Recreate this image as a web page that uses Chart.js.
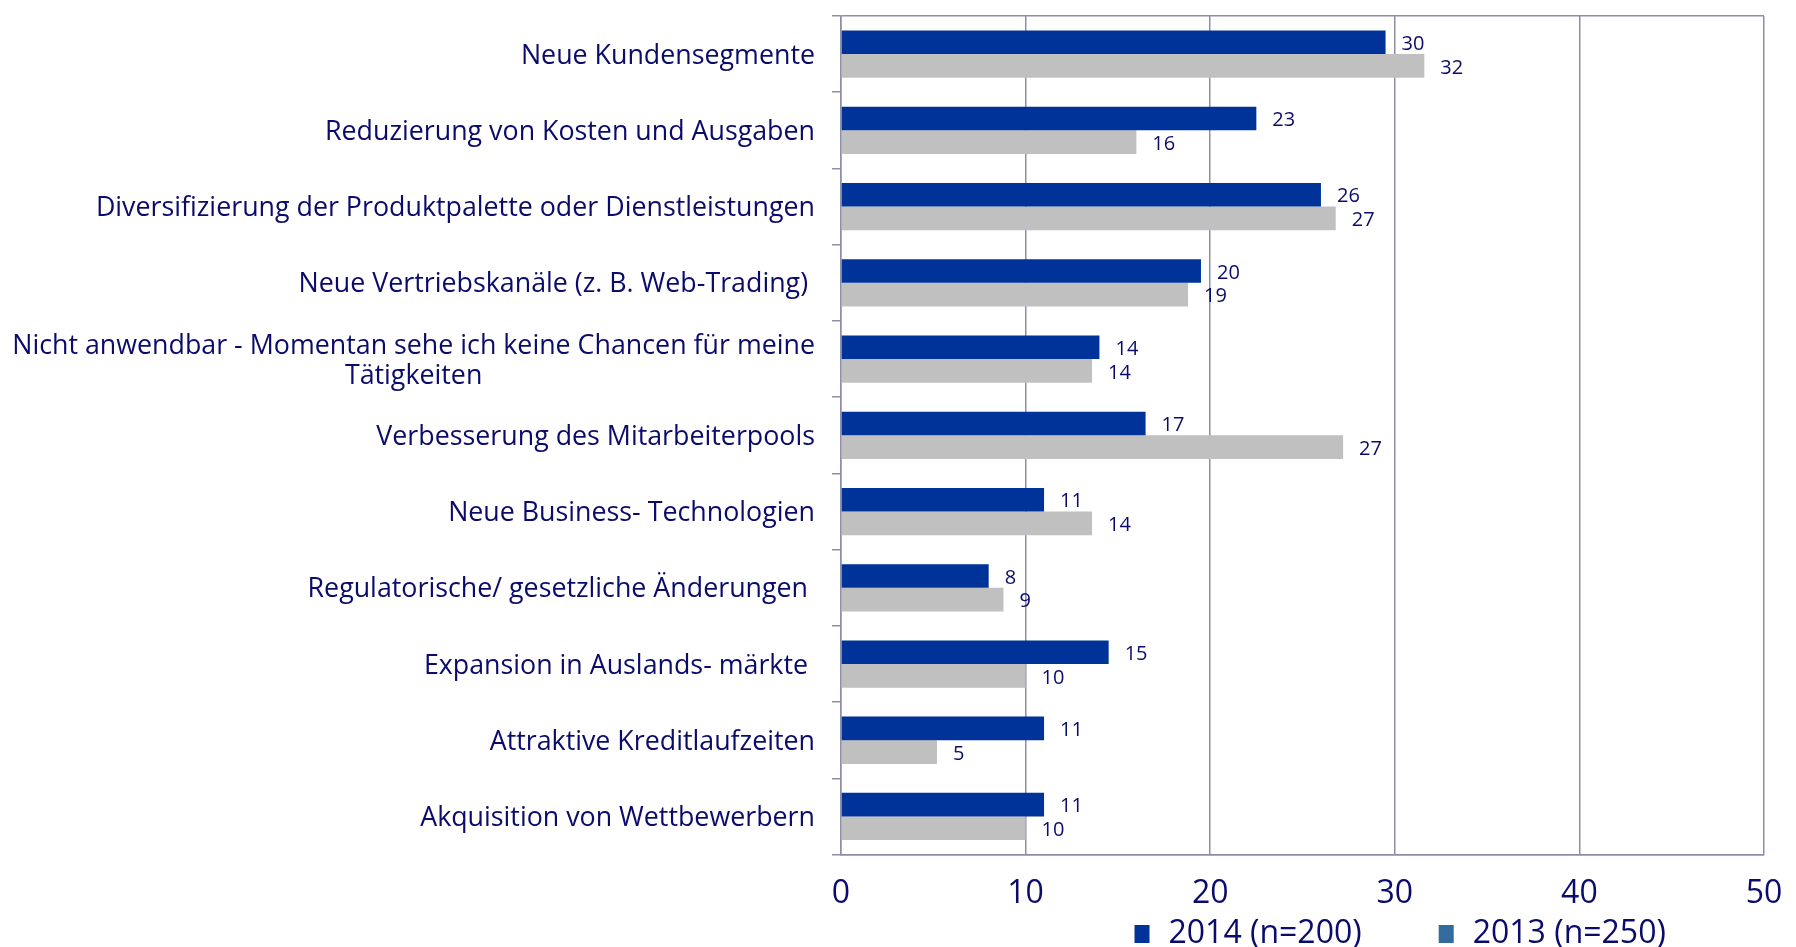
<!DOCTYPE html>
<html lang="de">
<head>
<meta charset="UTF-8">
<title>Chancen 2014 / 2013</title>
<script src="https://cdn.jsdelivr.net/npm/chart.js@4.4.0/dist/chart.umd.min.js"></script>
<style>
  html, body { margin: 0; padding: 0; background: #fff; }
</style>
</head>
<body>
<canvas id="myChart" width="1796" height="947"></canvas>
<script>
// data (bar lengths), labels show rounded values
const categories = [
  'Neue Kundensegmente',
  'Reduzierung von Kosten und Ausgaben',
  'Diversifizierung der Produktpalette oder Dienstleistungen',
  'Neue Vertriebskanäle (z. B. Web-Trading) ',
  ['Nicht anwendbar - Momentan sehe ich keine Chancen für meine', 'Tätigkeiten'],
  'Verbesserung des Mitarbeiterpools',
  'Neue Business- Technologien',
  'Regulatorische/ gesetzliche Änderungen ',
  'Expansion in Auslands- märkte ',
  'Attraktive Kreditlaufzeiten',
  'Akquisition von Wettbewerbern'
];
const values2014 = [29.5, 22.5, 26.0, 19.5, 14.0, 16.5, 11.0, 8.0, 14.5, 11.0, 11.0];
const values2013 = [31.6, 16.0, 26.8, 18.8, 13.6, 27.2, 13.6, 8.8, 10.0, 5.2, 10.0];
const seriesNames = ['2014 (n=200)', '2013 (n=250)'];
const xTicks = [0, 10, 20, 30, 40, 50];

const textColor = '#0b0b6b';
const gridColor = '#8e8ea6';
const barColors = ['#003399', '#c0c0c0'];
const legendColors = ['#003399', '#336b9e'];

// category names left of the axis (2-line label centred like the original)
const categoryLabels = {
  id: 'categoryLabels',
  afterDraw(chart) {
    const ctx = chart.ctx, y = chart.scales.y;
    ctx.save();
    ctx.font = '26.8px "Open Sans"';
    ctx.fillStyle = textColor;
    ctx.textAlign = 'center';
    ctx.textBaseline = 'middle';
    const right = chart.chartArea.left - 26;
    categories.forEach((lab, i) => {
      const lines = Array.isArray(lab) ? lab : [lab];
      const w = Math.max(...lines.map(t => ctx.measureText(t).width));
      const yc = y.getPixelForTick(i) + 2;
      lines.forEach((t, j) => {
        ctx.fillText(t, right - w / 2, yc + (j - (lines.length - 1) / 2) * 30);
      });
    });
    ctx.restore();
  }
};

// value next to the end of each bar
const valueLabels = {
  id: 'valueLabels',
  afterDatasetsDraw(chart) {
    const ctx = chart.ctx;
    ctx.save();
    ctx.font = '20px "Open Sans"';
    ctx.fillStyle = textColor;
    ctx.textAlign = 'left';
    ctx.textBaseline = 'middle';
    chart.data.datasets.forEach((ds, d) => {
      chart.getDatasetMeta(d).data.forEach((bar, i) => {
        ctx.fillText(Math.round(ds.data[i]), bar.x + 16, bar.y + 2);
      });
    });
    ctx.restore();
  }
};

// legend under the axis, sitting right of centre as in the original
const bottomLegend = {
  id: 'bottomLegend',
  afterDraw(chart) {
    const ctx = chart.ctx, a = chart.chartArea;
    ctx.save();
    ctx.font = '32px "Open Sans"';
    ctx.textAlign = 'left';
    ctx.textBaseline = 'middle';
    let x = a.left + a.width * 0.318;
    const yc = chart.height - 13;
    seriesNames.forEach((name, i) => {
      ctx.fillStyle = legendColors[i];
      ctx.fillRect(x, yc - 9, 15, 18);
      ctx.fillStyle = textColor;
      ctx.fillText(name, x + 34, yc);
      x += 34 + ctx.measureText(name).width + 77;
    });
    ctx.restore();
  }
};

const ctx = document.getElementById('myChart');
const myChart = new Chart(ctx, {
  type: 'bar',
  data: {
    labels: categories,
    datasets: [{
      label: seriesNames[0],
      data: values2014,
      backgroundColor: barColors[0],
      borderWidth: 0
    }, {
      label: seriesNames[1],
      data: values2013,
      backgroundColor: barColors[1],
      borderWidth: 0
    }]
  },
  options: {
    indexAxis: 'y',
    responsive: false,
    animation: false,
    categoryPercentage: 0.62,
    barPercentage: 1,
    layout: { padding: { top: 16, right: 32, bottom: 14, left: 0 } },
    plugins: {
      legend: { display: false },
      tooltip: { enabled: false }
    },
    scales: {
      x: {
        position: 'bottom',
        min: 0,
        max: 50,
        afterBuildTicks: (scale) => { scale.ticks = xTicks.map(v => ({ value: v })); },
        afterFit: (scale) => { scale.paddingRight = 0; },
        grid: { color: gridColor, lineWidth: 1.5, drawTicks: false },
        border: { color: gridColor, width: 1.5 },
        ticks: {
          color: textColor,
          font: { family: 'Open Sans', size: 32 },
          padding: 20
        }
      },
      y: {
        afterFit: (scale) => { scale.width = 841; },
        grid: {
          offset: true,
          color: (c) => (c.index === 0 || c.index === undefined) ? gridColor : 'rgba(0,0,0,0)',
          tickColor: gridColor,
          tickLength: 9,
          lineWidth: 1.5
        },
        border: { color: gridColor, width: 1.5 },
        ticks: { display: false }
      }
    }
  },
  plugins: [categoryLabels, valueLabels, bottomLegend]
});
</script>
</body>
</html>
